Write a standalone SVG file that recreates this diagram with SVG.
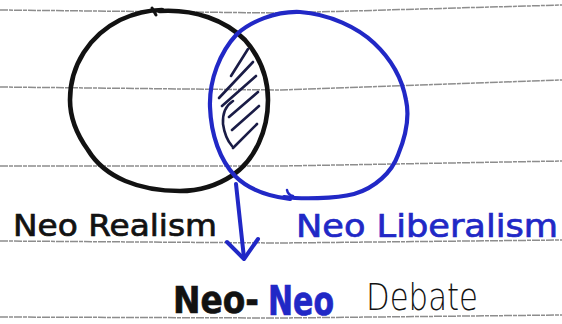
<svg xmlns="http://www.w3.org/2000/svg" width="562" height="324" viewBox="0 0 562 324">
  <style>
    .rule { fill: none; stroke: #707070; stroke-width: 1.5; stroke-dasharray: 8 1 4 1; opacity: 0.8; }
    .ink { fill: none; stroke-linecap: round; stroke-linejoin: round; }
    .black { stroke: #121212; }
    .blue { stroke: #2128c6; }
    .hatch { fill: none; stroke: #1a1c46; stroke-width: 2.6; stroke-linecap: round; }
    .hand { font-family: "DejaVu Sans", "Liberation Sans", sans-serif; }
    .tb { fill: #121212; stroke: #121212; stroke-width: 0.7; }
    .tblue { fill: #2128c6; stroke: #2128c6; stroke-width: 0.7; }
  </style>
  <rect x="0" y="0" width="562" height="324" fill="#ffffff"/>
  <g id="ruled-paper">
    <polyline class="rule" points="0,10 281,13 562,5"/>
    <polyline class="rule" points="0,87 281,90 562,80"/>
    <polyline class="rule" points="0,166 281,166 562,161"/>
    <polyline class="rule" points="0,241 281,243 562,240"/>
    <polyline class="rule" points="0,317 281,318 562,315"/>
  </g>
  <g id="neo-realism">
    <path class="ink black" stroke-width="4.6" d="M160,11 C195,9 225,20 245,40 C260,57 268,78 268,100 C268,130 255,160 233,175 C215,187 195,191 180,191 C140,191 105,178 88,150 C75,132 70,115 70,100 C70,65 90,35 120,20 C135,13 148,10 162,10"/>
    <path class="ink black" stroke-width="3" d="M152,8 L156,15"/>
    <text class="hand tb" x="13" y="236" font-size="30" textLength="204" lengthAdjust="spacingAndGlyphs">Neo Realism</text>
  </g>
  <g id="neo-liberalism">
    <path class="ink blue" stroke-width="4.2" d="M284,197 C300,199 335,199 354,194 C375,188 392,172 398,155 C405,138 410,118 406,100 C402,78 390,58 374,43 C358,28 330,14 300,12 C275,11 250,22 237,34 C220,52 209,80 210,107 C211,135 220,160 235,176 C248,189 265,196 290,199"/>
    <path class="ink blue" stroke-width="2.5" d="M287,190 Q288,195 293,196"/>
    <text class="hand tblue" x="296" y="237" font-size="32" textLength="262" lengthAdjust="spacingAndGlyphs">Neo Liberalism</text>
  </g>
  <g id="overlap">
    <path class="hatch" d="M248,49 L231,76"/>
    <path class="hatch" d="M253,62 L219,98"/>
    <path class="hatch" d="M256,76 L222,106"/>
    <path class="hatch" d="M258,92 L229,117"/>
    <path class="hatch" d="M259,106 L232,130"/>
    <path class="hatch" d="M257,124 L233,148"/>
    <path class="hatch" stroke-width="1.6" d="M233,101 Q222,108 223,124 Q225,138 232,146"/>
  </g>
  <g id="connectors">
    <path class="ink blue" stroke-width="4" d="M236,184 Q240,220 244,258"/>
    <polyline class="ink blue" stroke-width="4" points="227,242 244,259 258,239"/>
  </g>
  <g id="neo-neo-debate">
    <text class="hand tb" x="173" y="313" font-size="38" font-weight="bold" textLength="86" lengthAdjust="spacingAndGlyphs">Neo-</text>
    <text class="hand tblue" x="268" y="315" font-size="40" font-weight="bold" textLength="66" lengthAdjust="spacingAndGlyphs">Neo</text>
    <text class="hand" x="366" y="310" font-size="38" font-weight="200" fill="#121212" textLength="112" lengthAdjust="spacingAndGlyphs">Debate</text>
  </g>
</svg>
